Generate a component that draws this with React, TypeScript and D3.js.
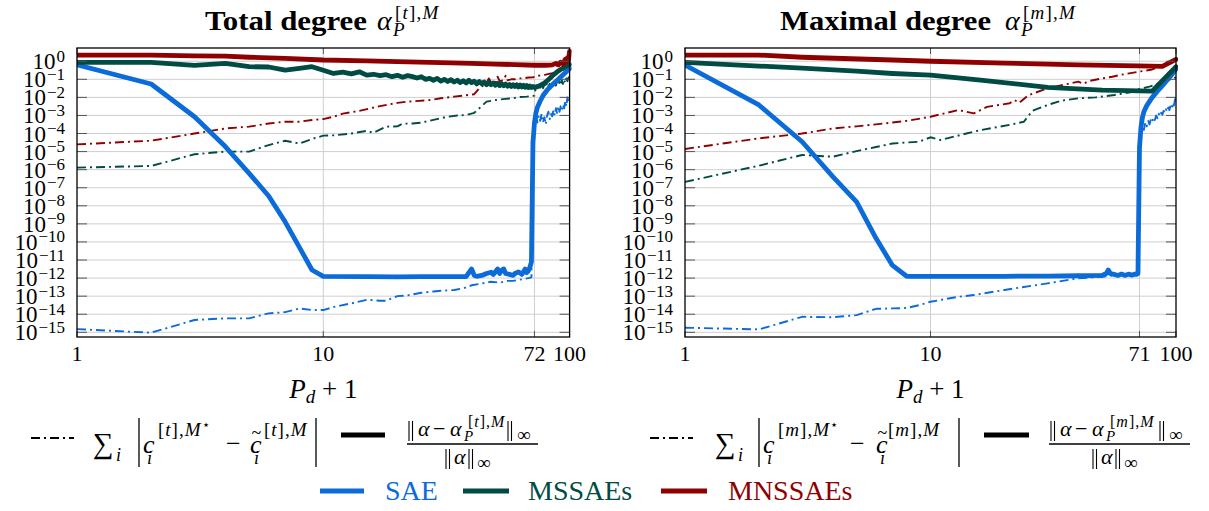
import React from "react";
import * as d3 from "d3";

// ---------------- DATA ----------------
// Left panel: total degree
const TD_X_TICKS = [1, 10, 72, 100];
const TD_SAE_NORM_X = [1,2,3,4,5,6,7,8,9,10,15,20,25,30,35,38,40,41,42,44,46,48,49,51,52,53,54,55,57,59,60,62,64,66,67,68,69,70,71,72,73,74,76,78,81,85,90,95,100];
const TD_SAE_NORM = [0.63,5.5e-2,8.5e-4,1.9e-5,6.3e-7,3.5e-8,1.3e-9,5.0e-11,2.8e-12,1.26e-12,1.2e-12,1.17e-12,1.2e-12,1.2e-12,1.2e-12,1.2e-12,3.2e-12,1.4e-12,1.26e-12,1.4e-12,1.8e-12,2.1e-12,1.6e-12,3.2e-12,1.8e-12,2.8e-12,3.2e-12,1.8e-12,1.6e-12,1.4e-12,1.8e-12,2.2e-12,1.6e-12,3.2e-12,2e-12,2.5e-12,4e-12,7.9e-12,3.2e-5,4e-4,1.4e-3,2.8e-3,6.3e-3,1.26e-2,2.5e-2,5e-2,0.1,0.2,0.4];
const TD_SAE_COEF_X = [1,2,3,4,5,6,7,8,9,10,11,13,15,17,18,20,22,25,28,30,34,37,40,44,48,52,56,59,62,65,68,70,71,72,73,74,75,76,77,78,79,80,81,82,83,84,85,86,87,88,89,90,91,92,93,94,95,96,97,98,99,100];
const TD_SAE_COEF = [1.5e-15,9.5e-16,4.8e-15,5.9e-15,5.9e-15,1.12e-14,1.3e-14,2.1e-14,1.7e-14,1.7e-14,2.5e-14,4e-14,6.3e-14,5.6e-14,5.6e-14,1e-13,1.1e-13,1.55e-13,1.8e-13,2e-13,2.2e-13,2.7e-13,4e-13,5e-13,6.3e-13,5.6e-13,7e-13,7e-13,7.9e-13,8.9e-13,1e-12,1.1e-12,2e-4,5e-4,1.26e-3,4e-4,1e-3,5e-4,1.26e-3,4e-4,7.9e-4,3.2e-4,1e-3,1.6e-3,6.3e-4,1.26e-3,8.9e-4,2e-3,1e-3,2.5e-3,1.26e-3,3.2e-3,1.6e-3,3.2e-3,2e-3,4e-3,2.5e-3,6.3e-3,3.2e-3,1e-2,5e-3,1.26e-2];
const TD_MSSAE_NORM_X = [1,2,3,4,5,6,7,8,9,10,11,12,13,14,15,16,17,18,19,20,21,22,23,24,25,26,27,28,29,30,31,32,33,34,35,36,37,38,39,40,41,42,43,44,45,46,47,48,49,50,51,52,53,54,55,56,57,58,59,60,61,62,63,64,65,66,67,68,69,70,71,72,75,78,80,83,86,89,92,96,100];
const TD_MSSAE_NORM = [0.87,0.87,0.59,0.76,0.5,0.48,0.32,0.4,0.5,0.32,0.21,0.25,0.2,0.26,0.17,0.19,0.16,0.18,0.14,0.166,0.13,0.16,0.14,0.117,0.14,0.1,0.112,0.089,0.112,0.079,0.1,0.076,0.095,0.071,0.089,0.066,0.083,0.063,0.089,0.066,0.079,0.056,0.076,0.056,0.071,0.05,0.066,0.05,0.063,0.047,0.06,0.045,0.056,0.044,0.055,0.042,0.052,0.04,0.05,0.04,0.05,0.038,0.048,0.038,0.047,0.036,0.045,0.035,0.042,0.035,0.04,0.036,0.042,0.056,0.071,0.112,0.178,0.26,0.35,0.5,0.66];
const TD_MSSAE_COEF_X = [1,2,3,4,5,6,7,8,9,10,11,13,15,16,18,20,21,23,25,27,30,32,35,38,41,43,46,50,55,59,63,67,71,72,73,74,75,76,77,78,79,80,81,82,83,84,85,86,87,88,89,90,91,92,93,94,95,96,97,98,99,100];
const TD_MSSAE_COEF = [1.3e-6,1.6e-6,7.1e-6,1e-5,1e-5,2.3e-5,4e-5,2.8e-5,5e-5,7.6e-5,7.9e-5,1e-4,1.4e-4,1.1e-4,2.4e-4,2.5e-4,3.5e-4,3.6e-4,4e-4,5.1e-4,7.1e-4,8.5e-4,1e-3,1.05e-3,1.4e-3,2.5e-3,5.8e-3,7.1e-3,8.3e-3,8.9e-3,1.05e-2,1.1e-2,1.2e-2,1.26e-2,0.04,0.032,0.05,0.035,0.056,0.032,0.05,0.035,0.063,0.04,0.056,0.035,0.063,0.045,0.071,0.045,0.079,0.05,0.071,0.05,0.089,0.056,0.1,0.063,0.112,0.079,0.126,0.14];
const TD_MNSSAE_NORM_X = [1,2,3,4,5,7,10,15,20,30,40,50,60,72,80,85,88,90,92,94,96,97,98,99,100];
const TD_MNSSAE_NORM = [2.2,2.2,2.0,1.9,1.66,1.45,1.17,1.05,0.95,0.83,0.76,0.69,0.65,0.6,0.6,0.63,0.76,0.63,0.89,0.71,1.26,0.89,1.58,1.12,3.5];
const TD_MNSSAE_COEF_X = [1,2,3,4,5,6,7,8,9,10,11,12,14,17,20,22,27,30,34,37,41,43,45,46,47,48,49,50,51,52,54,55,56,58,60,62,65,68,71,72,75,80,85,90,95,100];
const TD_MNSSAE_COEF = [2.5e-5,4e-5,1e-4,1.9e-4,2.4e-4,3.6e-4,4.5e-4,4.5e-4,5.6e-4,6.3e-4,8.5e-4,1.26e-3,1.8e-3,3.3e-3,5e-3,5.8e-3,7.1e-3,8.9e-3,1.1e-2,1.26e-2,1.5e-2,3.2e-2,5e-2,0.063,0.112,0.071,0.079,0.071,0.14,0.079,0.089,0.16,0.089,0.1,0.1,0.112,0.112,0.126,0.13,0.135,0.16,0.18,0.22,0.28,0.35,0.45];

// Right panel: maximal degree
const MD_X_TICKS = [1, 10, 71, 100];
const MD_SAE_NORM_X = [1,2,3,4,5,6,7,8,10,20,30,40,50,52,53,54,56,58,60,62,64,66,68,69,70,71,72,73,74,76,80,84,88,92,96,100];
const MD_SAE_NORM = [0.62,3.8e-3,3.5e-5,4.1e-7,1.66e-8,1.6e-10,5e-12,1.26e-12,1.26e-12,1.26e-12,1.3e-12,1.35e-12,1.4e-12,1.8e-12,2.8e-12,1.8e-12,1.6e-12,1.4e-12,1.66e-12,1.4e-12,1.66e-12,1.45e-12,1.66e-12,1.6e-12,1.8e-12,1.6e-5,2.2e-4,7.9e-4,1.6e-3,3.5e-3,1e-2,2.2e-2,4.5e-2,8.9e-2,0.18,0.37];
const MD_SAE_COEF_X = [1,2,3,4,5,6,7,8,9,10,13,15,20,30,40,50,60,65,70,71,72,73,74,75,76,77,78,79,80,81,82,83,84,85,86,87,88,89,90,91,92,93,94,95,96,97,98,99,100];
const MD_SAE_COEF = [1.8e-15,1.45e-15,7.2e-15,6.8e-15,8.9e-15,2e-14,2.1e-14,2.2e-14,3.2e-14,4.9e-14,9.3e-14,1.15e-13,2.2e-13,5.1e-13,9.8e-13,1.17e-12,1.6e-12,1.8e-12,1.8e-12,5e-5,1e-4,2.5e-4,1.6e-4,4e-4,2.5e-4,5e-4,3.2e-4,6.3e-4,4.5e-4,7.9e-4,5.6e-4,1e-3,7.1e-4,1.26e-3,8.9e-4,1.4e-3,1.1e-3,1.8e-3,1.4e-3,2.2e-3,1.6e-3,2.8e-3,2e-3,3.5e-3,2.5e-3,5e-3,3.5e-3,7.1e-3,1e-2];
const MD_MSSAE_NORM_X = [1,2,3,5,7,10,16,30,50,80,100];
const MD_MSSAE_NORM = [0.87,0.54,0.42,0.28,0.21,0.17,0.091,0.036,0.025,0.022,0.5];
const MD_MSSAE_COEF_X = [1,2,3,4,5,6,7,8,9,10,11,14,16,21,24,26,30,34,40,47,56,65,70,78,100];
const MD_MSSAE_COEF = [2.1e-7,1.66e-6,6.5e-6,5.2e-6,1.07e-5,1.8e-5,2.8e-5,3.2e-5,3.5e-5,6.2e-5,4.4e-5,1e-4,1.55e-4,3e-4,4.5e-4,1.8e-3,3.8e-3,6.5e-3,8.9e-3,1e-2,1.35e-2,1.9e-2,2.8e-2,3.9e-2,0.129];
const MD_MNSSAE_NORM_X = [1,2,3,7,10,20,40,70,88,100];
const MD_MNSSAE_NORM = [2.2,2.2,1.66,1.17,1.0,0.79,0.63,0.56,0.52,1.26];
const MD_MNSSAE_COEF_X = [1,2,3,4,5,6,8,10,13,15,17,21,22,23,25,30,35,40,42,44,50,55,60,70,80,90,100];
const MD_MNSSAE_COEF = [1.4e-5,5.4e-5,1e-4,1.9e-4,2.5e-4,3.2e-4,5e-4,8.5e-4,2e-3,1.3e-3,3e-3,4.7e-3,7.1e-3,5e-3,1.3e-2,3.2e-2,5e-2,7.4e-2,5.6e-2,7.9e-2,0.112,0.138,0.18,0.26,0.35,0.63,1.12];

const Y_TICK_EXP = [0,-1,-2,-3,-4,-5,-6,-7,-8,-9,-10,-11,-12,-13,-14,-15];
const Y_DOMAIN = [5.5e-16, 5.4];
const X_DOMAIN = [1, 100];
const SERIES_NAMES = ["SAE", "MSSAEs", "MNSSAEs"];

// ---------------- STYLE ----------------
const BLUE = "#0b6bd9";
const GREEN = "#004b43";
const RED = "#8f0000";
const COLORS = [BLUE, GREEN, RED];
const FONT = "'Liberation Serif','DejaVu Serif',serif";
const DASHDOT = "9 4 2 4";

type Series = { x: number[]; y: number[]; color: string; dash: boolean };

const zip = (xs: number[], ys: number[]) =>
  xs.slice(0, Math.min(xs.length, ys.length)).map((v, i) => [v, ys[i]] as [number, number]);

const TD_SERIES: Series[] = [
  { x: TD_SAE_COEF_X, y: TD_SAE_COEF, color: BLUE, dash: true },
  { x: TD_MSSAE_COEF_X, y: TD_MSSAE_COEF, color: GREEN, dash: true },
  { x: TD_MNSSAE_COEF_X, y: TD_MNSSAE_COEF, color: RED, dash: true },
  { x: TD_SAE_NORM_X, y: TD_SAE_NORM, color: BLUE, dash: false },
  { x: TD_MSSAE_NORM_X, y: TD_MSSAE_NORM, color: GREEN, dash: false },
  { x: TD_MNSSAE_NORM_X, y: TD_MNSSAE_NORM, color: RED, dash: false },
];
const MD_SERIES: Series[] = [
  { x: MD_SAE_COEF_X, y: MD_SAE_COEF, color: BLUE, dash: true },
  { x: MD_MSSAE_COEF_X, y: MD_MSSAE_COEF, color: GREEN, dash: true },
  { x: MD_MNSSAE_COEF_X, y: MD_MNSSAE_COEF, color: RED, dash: true },
  { x: MD_SAE_NORM_X, y: MD_SAE_NORM, color: BLUE, dash: false },
  { x: MD_MSSAE_NORM_X, y: MD_MSSAE_NORM, color: GREEN, dash: false },
  { x: MD_MNSSAE_NORM_X, y: MD_MNSSAE_NORM, color: RED, dash: false },
];

const TOP = 48;
const BOTTOM = 337;

function Panel({ id, left, right, xTicks, series }: { id: string; left: number; right: number; xTicks: number[]; series: Series[] }) {
  const x = d3.scaleLog().domain(X_DOMAIN).range([left, right]);
  const y = d3.scaleLog().domain(Y_DOMAIN).range([BOTTOM, TOP]);
  const line = d3.line<[number, number]>().x((d) => x(d[0])).y((d) => y(d[1]));
  const cx = (left + right) / 2;
  return (
    <g>
      <defs>
        <clipPath id={`clip-${id}`}>
          <rect x={left} y={TOP - 2} width={right - left + 2} height={BOTTOM - TOP + 2} />
        </clipPath>
      </defs>
      {Y_TICK_EXP.map((e) => (
        <line key={`gy${e}`} x1={left} x2={right} y1={y(Math.pow(10, e))} y2={y(Math.pow(10, e))} stroke="#cfcfcf" strokeWidth={1} />
      ))}
      {xTicks.filter((t) => t > X_DOMAIN[0] && t < X_DOMAIN[1]).map((t) => (
        <line key={`gx${t}`} x1={x(t)} x2={x(t)} y1={TOP} y2={BOTTOM} stroke="#cfcfcf" strokeWidth={1} />
      ))}
      <g clipPath={`url(#clip-${id})`}>
        {series.map((s, i) => (
          <path
            key={i}
            d={line(zip(s.x, s.y)) || ""}
            fill="none"
            stroke={s.color}
            strokeWidth={s.dash ? 1.9 : 4.8}
            strokeDasharray={s.dash ? DASHDOT : undefined}
            strokeLinejoin="round"
            strokeLinecap={s.dash ? "butt" : "round"}
          />
        ))}
      </g>
      {Y_TICK_EXP.map((e) => (
        <g key={`ty${e}`}>
          <line x1={left} x2={left + 10} y1={y(Math.pow(10, e))} y2={y(Math.pow(10, e))} stroke="#555" strokeWidth={1} />
          <line x1={right - 10} x2={right} y1={y(Math.pow(10, e))} y2={y(Math.pow(10, e))} stroke="#555" strokeWidth={1} />
          <text x={left - 12} y={y(Math.pow(10, e)) + 8} textAnchor="end" fill="#000">
            <tspan fontSize={23}>10</tspan>
            <tspan fontSize={17} dy={-7.5} dx={1}>{e === 0 ? "0" : `\u2212${-e}`}</tspan>
          </text>
        </g>
      ))}
      {xTicks.map((t) => (
        <g key={`tx${t}`}>
          <line x1={x(t)} x2={x(t)} y1={BOTTOM} y2={BOTTOM - 6} stroke="#555" strokeWidth={1} />
          <line x1={x(t)} x2={x(t)} y1={TOP} y2={TOP + 6} stroke="#555" strokeWidth={1} />
          <text x={x(t)} y={361} textAnchor="middle" fontSize={22} fill="#000">{t}</text>
        </g>
      ))}
      <rect x={left} y={TOP} width={right - left} height={BOTTOM - TOP} fill="none" stroke="#000" strokeWidth={1.3} />
      <text x={cx} y={398} textAnchor="middle" fontSize={27} fill="#000">
        <tspan fontStyle="italic">P</tspan>
        <tspan fontStyle="italic" fontSize={19} dy={5}>d</tspan>
        <tspan dy={-5}>{" + 1"}</tspan>
      </text>
    </g>
  );
}

function Idx({ x, y, letter, star, size, spacing }: { x: number; y: number; letter: string; star?: boolean; size: number; spacing: number }) {
  return (
    <text x={x} y={y} fontSize={size} fill="#000" letterSpacing={spacing}>
      <tspan>[</tspan>
      <tspan fontStyle="italic">{letter}</tspan>
      <tspan>],</tspan>
      <tspan fontStyle="italic">M</tspan>
      {star ? <tspan fontSize={size * 0.7} dy={-size * 0.35}>{"\u22C6"}</tspan> : null}
    </text>
  );
}

function DBar({ x, y1, y2 }: { x: number; y1: number; y2: number }) {
  return (
    <g stroke="#000" strokeWidth={1.1}>
      <line x1={x} x2={x} y1={y1} y2={y2} />
      <line x1={x + 3.5} x2={x + 3.5} y1={y1} y2={y2} />
    </g>
  );
}

function LegendCoef({ dash, sum, bar1, c1, sup1, minus, c2, sup2, bar2, letter }: any) {
  return (
    <g fill="#000">
      <line x1={dash[0]} x2={dash[1]} y1={438} y2={438} stroke="#000" strokeWidth={1.8} strokeDasharray={DASHDOT} />
      <text x={sum} y={453} fontSize={29}>{"\u2211"}</text>
      <text x={sum + 23} y={461} fontSize={18} fontStyle="italic">i</text>
      <line x1={bar1} x2={bar1} y1={418} y2={467} stroke="#000" strokeWidth={1.3} />
      <text x={c1} y={453} fontSize={26} fontStyle="italic">c</text>
      <text x={c1 + 4} y={464} fontSize={18} fontStyle="italic">i</text>
      <Idx x={sup1} y={436} letter={letter} star size={19} spacing={1} />
      <text x={minus} y={452} fontSize={26}>{"\u2212"}</text>
      <text x={c2} y={453} fontSize={26} fontStyle="italic">c</text>
      <text x={c2 + 1.5} y={439} fontSize={18}>~</text>
      <text x={c2 + 4} y={464} fontSize={18} fontStyle="italic">i</text>
      <Idx x={sup2} y={436} letter={letter} size={19} spacing={1} />
      <line x1={bar2} x2={bar2} y1={418} y2={467} stroke="#000" strokeWidth={1.3} />
    </g>
  );
}

function LegendNorm({ line, n, bar, d, letter }: any) {
  // n: [bar1, alpha1, minus, alpha2, P, sup, bar2, inf]
  return (
    <g fill="#000">
      <line x1={line[0]} x2={line[1]} y1={435} y2={435} stroke="#000" strokeWidth={4.8} />
      <DBar x={n[0]} y1={421} y2={441} />
      <text x={n[1]} y={436} fontSize={22} fontStyle="italic">{"\u03B1"}</text>
      <text x={n[2]} y={436} fontSize={22}>{"\u2212"}</text>
      <text x={n[3]} y={436} fontSize={22} fontStyle="italic">{"\u03B1"}</text>
      <text x={n[4]} y={441} fontSize={15} fontStyle="italic">P</text>
      <Idx x={n[5]} y={427} letter={letter} size={16} spacing={1} />
      <DBar x={n[6]} y1={421} y2={441} />
      <text x={n[7]} y={441} fontSize={19}>{"\u221E"}</text>
      <line x1={bar[0]} x2={bar[1]} y1={444} y2={444} stroke="#000" strokeWidth={1.4} />
      <DBar x={d[0]} y1={449} y2={469} />
      <text x={d[1]} y={464} fontSize={22} fontStyle="italic">{"\u03B1"}</text>
      <DBar x={d[2]} y1={449} y2={469} />
      <text x={d[3]} y={469} fontSize={19}>{"\u221E"}</text>
    </g>
  );
}

function Title({ x, w, bold, ax, letter }: { x: number; w: number; bold: string; ax: number; letter: string }) {
  return (
    <g fill="#000">
      <text x={x} y={30} fontSize={28} fontWeight="bold" textLength={w} lengthAdjust="spacingAndGlyphs">{bold}</text>
      <text x={ax} y={30} fontSize={28} fontStyle="italic">{"\u03B1"}</text>
      <text x={ax + 16} y={36} fontSize={19} fontStyle="italic">P</text>
      <Idx x={ax + 18} y={19} letter={letter} size={19} spacing={1.2} />
    </g>
  );
}

export default function App() {
  const legendLines = [[320, 364], [463, 509], [661, 707]];
  const legendText = [385, 528, 728];
  return (
    <svg
      width={1209}
      height={511}
      viewBox="0 0 1209 511"
      style={{ position: "absolute", left: 0, top: 0, background: "#fff", fontFamily: FONT }}
      fontFamily={FONT}
    >
      <rect x={0} y={0} width={1209} height={511} fill="#fff" />
      <Title x={205} w={162} bold="Total degree" ax={377} letter="t" />
      <Title x={780} w={211} bold="Maximal degree" ax={1005} letter="m" />
      <Panel id="td" left={77} right={569.6} xTicks={TD_X_TICKS} series={TD_SERIES} />
      <Panel id="md" left={685} right={1176} xTicks={MD_X_TICKS} series={MD_SERIES} />

      <LegendCoef dash={[31, 74]} sum={93} bar1={139} c1={143} sup1={158} minus={226} c2={250} sup2={264} bar2={316} letter="t" />
      <LegendNorm line={[341, 385]} n={[409, 418, 433, 450, 464, 468, 508, 517]} bar={[407, 538]} d={[446, 454, 469, 477]} letter="t" />
      <LegendCoef dash={[650, 693]} sum={715} bar1={759} c1={763} sup1={778} minus={850} c2={876} sup2={888} bar2={959} letter="m" />
      <LegendNorm line={[984, 1029]} n={[1051, 1060, 1075, 1092, 1106, 1110, 1160, 1169]} bar={[1049, 1190]} d={[1093, 1101, 1116, 1124]} letter="m" />

      {SERIES_NAMES.map((name, i) => (
        <g key={name}>
          <line x1={legendLines[i][0]} x2={legendLines[i][1]} y1={491} y2={491} stroke={COLORS[i]} strokeWidth={4.8} />
          <text x={legendText[i]} y={500} fontSize={28} fill={COLORS[i]}>{name}</text>
        </g>
      ))}
    </svg>
  );
}
